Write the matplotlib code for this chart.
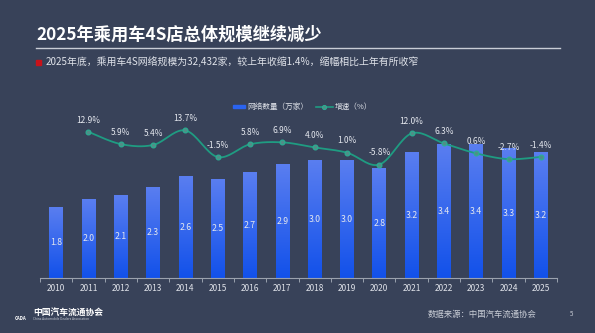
import matplotlib.pyplot as plt
import numpy as np
from matplotlib.colors import LinearSegmentedColormap
from matplotlib.patches import Rectangle

plt.rcParams['font.family'] = ['Noto Sans CJK SC', 'DejaVu Sans']

# 乘用车4S店网络数量（万家）与增速（%）
years = ['2010', '2011', '2012', '2013', '2014', '2015', '2016', '2017',
         '2018', '2019', '2020', '2021', '2022', '2023', '2024', '2025']
counts = [1.8, 2.0, 2.1, 2.3, 2.6, 2.5, 2.7, 2.9,
          3.0, 3.0, 2.8, 3.2, 3.4, 3.4, 3.3, 3.2]
growth_years = years[1:]
growth = [12.9, 5.9, 5.4, 13.7, -1.5, 5.8, 6.9,
          4.0, 1.0, -5.8, 12.0, 6.3, 0.6, -2.7, -1.4]

bg = '#384259'
text_c = '#e4e7ee'
line_c = '#1f9c82'

fig = plt.figure(figsize=(5.95, 3.33), dpi=100, facecolor=bg)

# header
fig.text(36 / 595, 1 - 35 / 333, '2025年乘用车4S店总体规模继续减少',
         color='white', fontsize=12.4, fontweight='bold', va='center', ha='left')
fig.add_artist(plt.Line2D([36 / 595, 560 / 595], [1 - 48 / 333] * 2,
                          color='#c9cdd6', lw=1.0))
fig.add_artist(Rectangle((36 / 595, 1 - 64.5 / 333), 5 / 595, 5 / 333,
                         color='#c8121a', transform=fig.transFigure))
fig.text(46 / 595, 1 - 62 / 333,
         '2025年底，乘用车4S网络规模为32,432家，较上年收缩1.4%，缩幅相比上年有所收窄',
         color='#dfe2e9', fontsize=7.15, va='center', ha='left')

ax = fig.add_axes([40 / 595, 55 / 333, 517 / 595, 178 / 333])
ax.set_facecolor('none')
x = np.arange(len(years))
bar_w = 0.42

# bars with vertical gradient
cmap = LinearSegmentedColormap.from_list('bar', ['#1251ea', '#5a7ef0'])
grad = np.linspace(0, 1, 256).reshape(-1, 1)
bars = ax.bar(x, counts, width=bar_w, color='none', zorder=2)
for b, v in zip(bars, counts):
    x0 = b.get_x()
    ax.imshow(grad, cmap=cmap, origin='lower', aspect='auto', zorder=2,
              extent=(x0, x0 + bar_w, 0, v))
    ax.text(b.get_x() + bar_w / 2, v / 2, f'{v:.1f}', color=text_c,
            fontsize=6.3, ha='center', va='center', zorder=4)

ax.set_xlim(-0.5, 15.5)
ax.set_ylim(0, 4.54)
for s in ['top', 'left', 'right']:
    ax.spines[s].set_visible(False)
ax.spines['bottom'].set_color('#9aa1ae')
ax.spines['bottom'].set_linewidth(0.8)
ax.set_yticks([])
ax.set_xticks(x)
ax.set_xticklabels(years)
ax.set_xticks(np.arange(-0.5, 16, 1), minor=True)
ax.tick_params(axis='x', which='major', length=0, pad=4.5, labelsize=6,
               labelcolor='#dfe2e9')
ax.tick_params(axis='x', which='minor', length=3, width=0.7, color='#9aa1ae')

# growth line on a secondary scale, smoothed with Catmull-Rom segments
ax2 = ax.twinx()
ax2.set_ylim(-70.6, 31.1)
ax2.axis('off')
gx = np.arange(1, len(years))
gy = np.array(growth)
px = np.concatenate([[gx[0]], gx, [gx[-1]]])
py = np.concatenate([[gy[0]], gy, [gy[-1]]])
sx, sy = [], []
t = np.linspace(0, 1, 20)
for i in range(1, len(px) - 2):
    p0, p1, p2, p3 = py[i - 1], py[i], py[i + 1], py[i + 2]
    q0, q1, q2, q3 = px[i - 1], px[i], px[i + 1], px[i + 2]
    sy.extend(0.5 * (2 * p1 + (-p0 + p2) * t + (2 * p0 - 5 * p1 + 4 * p2 - p3) * t ** 2
                     + (-p0 + 3 * p1 - 3 * p2 + p3) * t ** 3))
    sx.extend(0.5 * (2 * q1 + (-q0 + q2) * t + (2 * q0 - 5 * q1 + 4 * q2 - q3) * t ** 2
                     + (-q0 + 3 * q1 - 3 * q2 + q3) * t ** 3))
ax2.plot(sx, sy, color=line_c, lw=1.3, zorder=3)
ax2.plot(gx, gy, 'o', ms=3.5, mfc='#4f8f88', mec='#29b093', mew=0.8, zorder=4)
for xi, yi in zip(gx, gy):
    ax2.text(xi, yi + 4.2, f'{yi:.1f}%', color=text_c, fontsize=6,
             ha='center', va='bottom', zorder=5)

# legend
fig.add_artist(Rectangle((233 / 595, 1 - 108.3 / 333), 12 / 595, 3.2 / 333,
                         color='#2a63f0', transform=fig.transFigure))
fig.text(247 / 595, 1 - 106.7 / 333, '网络数量（万家）', color='#dfe2e9',
         fontsize=5.5, va='center', ha='left')
fig.add_artist(plt.Line2D([316 / 595, 333 / 595], [1 - 106.7 / 333] * 2,
                          color=line_c, lw=1.2))
fig.add_artist(plt.Line2D([324.5 / 595], [1 - 106.7 / 333], marker='o', ms=3,
                          mfc='#4f8f88', mec='#29b093', mew=0.7))
fig.text(335 / 595, 1 - 106.7 / 333, '增速（%）', color='#dfe2e9',
         fontsize=5.5, va='center', ha='left')

# footer
fig.text(33 / 595, 1 - 312.5 / 333, '中国汽车流通协会', color='white',
         fontsize=6.3, fontweight='bold', va='center', ha='left')
fig.text(33 / 595, 1 - 319.5 / 333, 'China Automobile Dealers Association',
         color='#c9cdd6', fontsize=2.3, va='center', ha='left')
fig.text(15 / 595, 1 - 318 / 333, 'CADA', color='white', fontsize=3.2,
         fontstyle='italic', fontweight='bold', va='center', ha='left')
fig.text(428 / 595, 1 - 314 / 333, '数据来源：中国汽车流通协会', color='#c9cdd6',
         fontsize=6, va='center', ha='left')
fig.text(572 / 595, 1 - 314 / 333, '5', color='#c9cdd6', fontsize=4.5,
         va='center', ha='center')

fig.savefig('out.png', dpi=100, facecolor=bg)
